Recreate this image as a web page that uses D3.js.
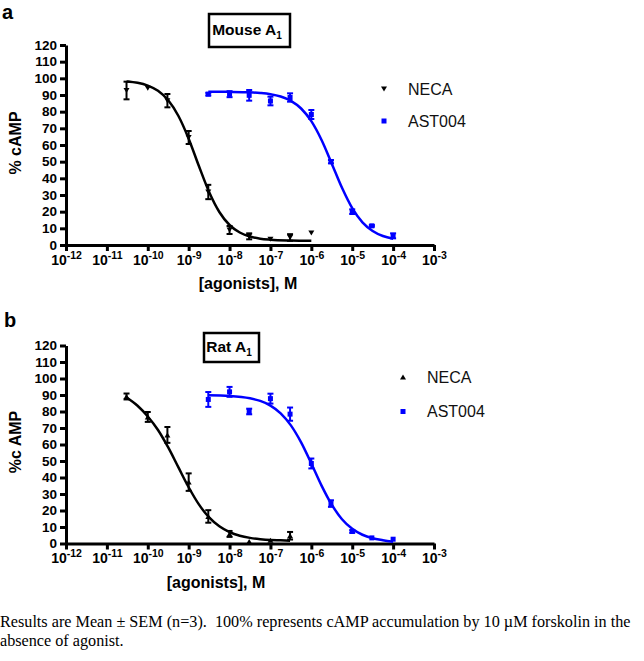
<!DOCTYPE html>
<html>
<head>
<meta charset="utf-8">
<script src="https://cdn.jsdelivr.net/npm/d3@7"></script>
<style>
  html, body { margin: 0; padding: 0; background: #fff; }
  svg { display: block; }
</style>
</head>
<body>
<svg id="chart" width="644" height="661"></svg>
<script>
// ---------- data ----------
const xTickExponents = [-12, -11, -10, -9, -8, -7, -6, -5, -4, -3];
const yTickValues = [0, 10, 20, 30, 40, 50, 60, 70, 80, 90, 100, 110, 120];

// Panel a: Mouse A1
const aNecaLogConc = [-10.52, -10, -9.52, -9, -8.52, -8, -7.52, -7, -6.52, -6];
const aNecaMean    = [92.7, 94, 86.6, 64.5, 31.8, 9, 5.2, 3.5, 4.5, 7.2];
const aNecaSem     = [5.3, 0, 4, 3.9, 4.3, 2.4, 1.8, 0, 2, 0];
const aAstLogConc  = [-8.52, -8, -7.52, -7, -6.52, -6, -5.52, -5, -4.52, -4];
const aAstMean     = [90.5, 90.5, 89.8, 86.4, 88.5, 78.3, 50, 20, 11.5, 5.5];
const aAstSem      = [0.8, 1.8, 3.2, 2.6, 2.5, 2.7, 1, 1.4, 0.5, 1.5];

const aNecaFitLog = [-10.52, -10.25, -10, -9.75, -9.5, -9.25, -9, -8.75, -8.5, -8.25, -8, -7.75, -7.5, -7.25, -7, -6.5, -6];
const aNecaFitVal = [98.1, 97.3, 95.6, 92.5, 86.8, 77.4, 63.8, 47.4, 31.8, 19.8, 12.0, 7.5, 5.1, 3.8, 3.2, 2.7, 2.5];
const aAstFitLog  = [-8.52, -8, -7.5, -7.25, -7, -6.75, -6.5, -6.25, -6, -5.75, -5.5, -5.25, -5, -4.75, -4.5, -4.25, -4];
const aAstFitVal  = [92.0, 91.9, 91.6, 91.2, 90.5, 89.1, 86.5, 81.9, 74.3, 63.0, 48.8, 34.3, 22.1, 13.6, 8.4, 5.4, 3.8];

// Panel b: Rat A1
const bNecaLogConc = [-10.52, -10, -9.52, -9, -8.52, -8, -7.52, -7, -6.52];
const bNecaMean    = [89.1, 76.7, 65.8, 37.2, 16.4, 5.8, 1.2, 2, 4.7];
const bNecaSem     = [1.8, 3, 4.8, 5.3, 3.8, 1.8, 0, 0, 2.3];
const bAstLogConc  = [-8.52, -8, -7.52, -7, -6.52, -6, -5.52, -5, -4.52, -4];
const bAstMean     = [87.3, 91.9, 80, 87.8, 78.4, 48.5, 24.2, 7.3, 3.4, 2.6];
const bAstSem      = [4.5, 3, 1.7, 3, 4, 3, 2, 0.8, 0, 0];

const bNecaFitLog = [-10.52, -10.25, -10, -9.75, -9.5, -9.25, -9, -8.75, -8.5, -8.25, -8, -7.75, -7.5, -7.25, -7, -6.75, -6.52];
const bNecaFitVal = [88.5, 83.5, 77.0, 68.8, 58.2, 46.1, 34.1, 23.7, 15.8, 10.4, 6.9, 4.7, 3.4, 2.6, 2.1, 1.9, 1.7];
const bAstFitLog  = [-8.52, -8, -7.5, -7.25, -7, -6.75, -6.5, -6.25, -6, -5.75, -5.5, -5.25, -5, -4.75, -4.5, -4.25, -4];
const bAstFitVal  = [89.8, 89.4, 88.0, 86.4, 83.6, 78.9, 71.6, 61.3, 48.5, 35.1, 23.5, 14.7, 8.9, 5.3, 3.2, 2.0, 1.0];

const seriesNames = ["NECA", "AST004"];
const captionLines = [
  "Results are Mean \u00b1 SEM (n=3).  100% represents cAMP accumulation by 10 \u00b5M forskolin in the",
  "absence of agonist."
];

// ---------- drawing ----------
const SANS = "'Liberation Sans', Arial, Helvetica, sans-serif";
const BLUE = "#0000ff";
const svg = d3.select("#chart");

function drawPanel(cfg) {
  const x = d3.scaleLog().domain([1e-12, 1e-3]).range([66, 434]);
  const y = d3.scaleLinear().domain([0, 120]).range([cfg.yBottom, cfg.yTop]);
  const g = svg.append("g");

  // panel letter
  g.append("text").attr("x", cfg.letterX).attr("y", cfg.letterY)
    .attr("font-family", SANS).attr("font-weight", "bold").attr("font-size", 20)
    .text(cfg.letter);

  // y axis
  const yAxis = d3.axisLeft(y).tickValues(yTickValues).tickSize(6).tickSizeOuter(0).tickPadding(3);
  const ya = g.append("g").attr("transform", "translate(66,0)").call(yAxis);
  ya.select(".domain").attr("stroke-width", 3).attr("stroke", "#000");
  ya.selectAll(".tick line").attr("stroke-width", 3).attr("stroke", "#000");
  ya.selectAll(".tick text").attr("font-family", SANS).attr("font-weight", "bold")
    .attr("font-size", 13.5).attr("fill", "#000");

  // x axis
  const xAxis = d3.axisBottom(x).tickValues(xTickExponents.map(e => Math.pow(10, e)))
    .tickSize(6).tickSizeOuter(0).tickPadding(4).tickFormat(() => "");
  const xa = g.append("g").attr("transform", `translate(0,${cfg.yBottom})`).call(xAxis);
  xa.select(".domain").attr("stroke-width", 3).attr("stroke", "#000");
  xa.selectAll(".tick line").attr("stroke-width", 3).attr("stroke", "#000");
  xa.selectAll(".tick text").each(function(d, i) {
    const t = d3.select(this).attr("font-family", SANS).attr("font-weight", "bold")
      .attr("fill", "#000").attr("font-size", 14).attr("y", 10).attr("dy", "0.71em");
    t.append("tspan").text("10");
    t.append("tspan").attr("font-size", 10.5).attr("dy", -6).text(String(xTickExponents[i]));
  });

  // axis titles
  g.append("text").attr("x", cfg.xTitleX).attr("y", cfg.yBottom + 44)
    .attr("text-anchor", "middle").attr("font-family", SANS).attr("font-weight", "bold")
    .attr("font-size", 16).text("[agonists], M");
  g.append("text")
    .attr("transform", `translate(21,${cfg.yLabelY}) rotate(-90)`)
    .attr("text-anchor", "middle").attr("font-family", SANS).attr("font-weight", "bold")
    .attr("font-size", 16).style("white-space", "pre").text(cfg.yLabel);

  // title box
  const tt = g.append("text").attr("x", cfg.titleCx).attr("y", cfg.titleBase)
    .attr("text-anchor", "middle").attr("font-family", SANS).attr("font-weight", "bold")
    .attr("font-size", 15.5);
  tt.append("tspan").text(cfg.title);
  tt.append("tspan").attr("font-size", 10).attr("dy", 4).text("1");
  g.append("rect").attr("x", cfg.box[0]).attr("y", cfg.box[1])
    .attr("width", cfg.box[2]).attr("height", cfg.box[3])
    .attr("fill", "none").attr("stroke", "#000").attr("stroke-width", 2.5);

  const line = d3.line().x(d => x(Math.pow(10, d[0]))).y(d => y(d[1])).curve(d3.curveMonotoneX);

  function series(logs, means, sems, fitLog, fitVal, color, shape) {
    g.append("path").datum(d3.zip(fitLog, fitVal)).attr("d", line)
      .attr("fill", "none").attr("stroke", color).attr("stroke-width", 2.5);
    const pts = d3.zip(logs, means, sems);
    const eb = g.append("g").attr("stroke", color).attr("stroke-width", 2);
    pts.filter(p => p[2] > 0).forEach(p => {
      const cx = x(Math.pow(10, p[0]));
      const y1 = y(p[1] + p[2]), y2 = y(p[1] - p[2]);
      eb.append("line").attr("x1", cx).attr("x2", cx).attr("y1", y1).attr("y2", y2);
      eb.append("line").attr("x1", cx - 3).attr("x2", cx + 3).attr("y1", y1).attr("y2", y1);
      eb.append("line").attr("x1", cx - 3).attr("x2", cx + 3).attr("y1", y2).attr("y2", y2);
    });
    g.append("g").selectAll("path").data(pts).join("path")
      .attr("transform", p => `translate(${x(Math.pow(10, p[0]))},${y(p[1])})`)
      .attr("d", shape).attr("fill", color);
  }

  const triDown = "M-3,-2.5L3,-2.5L0,2.5Z";
  const triUp = "M-3,2.5L3,2.5L0,-2.5Z";
  const square = "M-2.5,-2.5H2.5V2.5H-2.5Z";
  const necaShape = cfg.necaUp ? triUp : triDown;

  series(cfg.neca[0], cfg.neca[1], cfg.neca[2], cfg.necaFit[0], cfg.necaFit[1], "#000", necaShape);
  series(cfg.ast[0], cfg.ast[1], cfg.ast[2], cfg.astFit[0], cfg.astFit[1], BLUE, square);

  // legend
  const lg = g.append("g");
  const shapes = [necaShape, square], colors = ["#000", BLUE];
  seriesNames.forEach((name, i) => {
    const ly = cfg.legendY[i];
    lg.append("path").attr("transform", `translate(${cfg.legendX},${ly})`)
      .attr("d", shapes[i]).attr("fill", colors[i]);
    lg.append("text").attr("x", cfg.legendX + 24).attr("y", ly + 5.5)
      .attr("font-family", SANS).attr("font-size", 16).attr("fill", "#111").text(name);
  });
}

drawPanel({
  letter: "a", letterX: 2, letterY: 19,
  yTop: 45, yBottom: 245,
  yLabel: "% cAMP", yLabelY: 143,
  xTitleX: 248,
  title: "Mouse A", titleCx: 247, titleBase: 35, box: [209, 14, 81, 33],
  neca: [aNecaLogConc, aNecaMean, aNecaSem], necaFit: [aNecaFitLog, aNecaFitVal],
  ast: [aAstLogConc, aAstMean, aAstSem], astFit: [aAstFitLog, aAstFitVal],
  necaUp: false,
  legendX: 384, legendY: [89, 121]
});

drawPanel({
  letter: "b", letterX: 4, letterY: 327,
  yTop: 345.5, yBottom: 543.5,
  yLabel: "%c AMP", yLabelY: 442,
  xTitleX: 216,
  title: "Rat A", titleCx: 229, titleBase: 352, box: [204, 333, 55, 29],
  neca: [bNecaLogConc, bNecaMean, bNecaSem], necaFit: [bNecaFitLog, bNecaFitVal],
  ast: [bAstLogConc, bAstMean, bAstSem], astFit: [bAstFitLog, bAstFitVal],
  necaUp: true,
  legendX: 403, legendY: [377, 411.5]
});

// caption
captionLines.forEach((t, i) => {
  svg.append("text").attr("x", 0).attr("y", 627 + i * 18.5)
    .attr("font-family", "'Liberation Serif', 'Times New Roman', serif")
    .attr("font-size", 16.2).style("white-space", "pre").attr("fill", "#000").text(t);
});
</script>
</body>
</html>
